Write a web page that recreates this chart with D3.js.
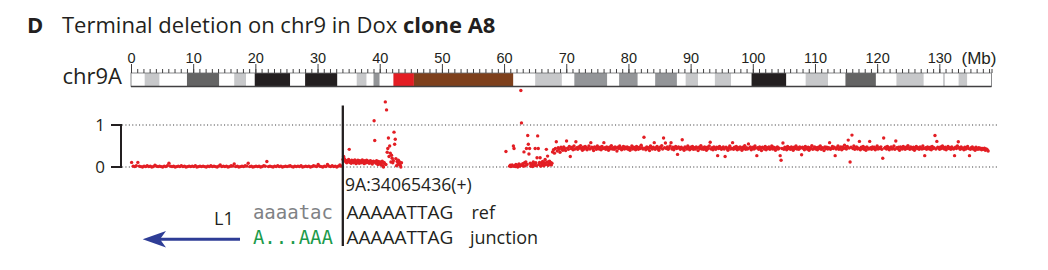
<!DOCTYPE html>
<html>
<head>
<meta charset="utf-8">
<script src="https://cdn.jsdelivr.net/npm/d3@7"></script>
<style>
  body { margin: 0; background: #fff; }
  svg { display: block; }
  text { white-space: pre; }
</style>
</head>
<body>
<svg id="chart" width="1048" height="270"></svg>
<script>
// chr9 (hg38) length and junction position, in Mb
const chromLength = 138.39;
const breakpoint = 34.065436;

const majorTicks = [0, 10, 20, 30, 40, 50, 60, 70, 80, 90, 100, 110, 120, 130];
const yTicks = [0, 1];

// cytobands: [start, end, stain]
const bands = [
  [0, 2.2, 'gneg'], [2.2, 4.6, 'gpos25'], [4.6, 9.0, 'gneg'], [9.0, 14.2, 'gpos75'],
  [14.2, 16.6, 'gneg'], [16.6, 18.5, 'gpos25'], [18.5, 19.9, 'gneg'], [19.9, 25.6, 'gpos100'],
  [25.6, 28.0, 'gneg'], [28.0, 33.2, 'gpos100'], [33.2, 36.3, 'gneg'], [36.3, 37.9, 'gpos25'],
  [37.9, 39.0, 'gneg'], [39.0, 40.0, 'gpos50'], [40.0, 42.2, 'gneg'], [42.2, 45.5, 'acen'],
  [45.5, 61.5, 'gvar'], [61.5, 65.0, 'gneg'], [65.0, 69.3, 'gpos25'], [69.3, 71.3, 'gneg'],
  [71.3, 76.6, 'gpos50'], [76.6, 78.5, 'gneg'], [78.5, 81.5, 'gpos50'], [81.5, 84.3, 'gneg'],
  [84.3, 87.8, 'gpos50'], [87.8, 89.2, 'gneg'], [89.2, 91.2, 'gpos25'], [91.2, 93.9, 'gneg'],
  [93.9, 96.5, 'gpos25'], [96.5, 99.8, 'gneg'], [99.8, 105.4, 'gpos100'], [105.4, 108.5, 'gneg'],
  [108.5, 112.1, 'gpos25'], [112.1, 114.9, 'gneg'], [114.9, 119.8, 'gpos75'], [119.8, 123.1, 'gneg'],
  [123.1, 127.5, 'gpos25'], [127.5, 130.6, 'gneg'], [130.6, 130.9, 'gpos25'], [130.9, 133.1, 'gneg'],
  [133.1, 134.5, 'gpos25'], [134.5, chromLength, 'gneg']
];

const stainColour = {
  gneg: '#ffffff', gpos25: '#c7c8ca', gpos50: '#939598', gpos75: '#646464',
  gpos100: '#231f20', acen: '#e31e24', gvar: '#7e401c'
};

// read depth ratio per bin. each segment: first bin (Mb), bin width (Mb), values (null = no bin)
const delStart = 0.1, delStep = 0.25;
const delValues = [
  0.11,0.02,0.01,0.03,0.11,0.02,0.01,0.00,0.02,0.01,0.03,0.01,0.02,0.00,0.01,0.04,0.02,0.01,0.02,0.01,
  0.00,0.02,0.01,0.03,0.09,0.02,0.01,0.02,0.00,0.01,0.02,0.01,0.03,0.01,0.02,0.00,0.01,0.02,0.01,0.02,
  0.01,0.03,0.00,0.01,0.02,0.01,0.02,0.01,0.00,0.02,0.01,0.03,0.01,0.02,0.01,0.00,0.02,0.05,0.01,0.02,
  0.01,0.02,0.00,0.01,0.03,0.02,0.07,0.01,0.02,0.00,0.01,0.02,0.01,0.03,0.02,0.09,0.01,0.02,0.00,0.01,
  0.02,0.01,0.02,0.00,0.01,0.03,0.02,0.13,0.01,0.02,0.01,0.00,0.02,0.01,0.03,0.01,0.02,0.00,0.01,0.02,
  0.01,0.02,0.03,0.01,0.00,0.02,0.01,0.02,0.01,0.03,0.00,0.01,0.02,0.01,0.02,0.00,0.01,0.03,0.02,0.01,
  0.06,0.02,0.01,0.00,0.02,0.01,0.06,0.02,0.01,0.03,0.01,0.02,0.00,0.02,0.05,0.02
];

const pStart = 34.1, pStep = 0.1;
const pValues = [
  0.18,0.25,0.20,0.14,0.16,0.12,0.10,0.15,0.13,0.18,0.42,0.11,0.14,0.09,0.16,0.12,0.15,0.10,0.13,0.17,
  0.12,0.08,0.14,0.11,0.16,0.13,0.09,0.15,0.12,0.10,0.14,0.17,0.11,0.13,0.08,0.15,0.12,0.10,0.16,0.13,
  0.11,0.14,0.09,0.12,0.15,0.10,0.13,0.07,0.11,0.14,1.10,0.63,0.12,0.09,0.15,0.11,0.06,0.13,0.10,0.08,
  0.12,0.05,0.10,0.14,0.03,0.00,0.11,0.08,1.55,0.06,1.36,0.35,0.44,0.69,0.25,0.50,0.33,0.12,0.28,0.21,
  0.10,0.15,0.83,0.54,0.66,0.20,0.03,0.13,0.06,0.16,0.09,0.12,0.04,0.00,0.10
];

const cenStart = 60.3, cenStep = 0.1;
const cenValues = [
  0.37,null,null,null,null,null,0.02,0.04,0.01,0.03,0.05,0.02,0.50,0.44,0.03,0.01,0.06,0.02,0.04,0.00,
  0.03,0.07,0.02,0.05,1.82,1.05,0.04,0.08,0.02,0.36,0.10,0.03,0.12,0.44,0.06,0.75,0.54,0.31,0.44,0.09,
  0.02,0.05,0.08,0.01,0.12,0.04,0.07,0.44,0.10,0.03,0.22,0.74,0.44,0.06,0.11,0.22,0.02,0.09,0.05,0.13,
  0.08,0.03,0.10,0.18,0.06,0.42,0.12,0.26,0.04,0.09,0.14,0.07,0.11,0.05,0.09
];

const qStart = 67.8, qStep = 0.15;
const qValues = [
  0.36,0.41,0.33,0.44,0.60,0.38,0.46,0.42,0.35,0.47,0.43,0.40,0.48,0.44,0.39,0.62,0.45,0.42,0.49,0.25,
  0.44,0.47,0.41,0.50,0.43,0.60,0.46,0.42,0.48,0.45,0.51,0.44,0.40,0.47,0.43,0.49,0.46,0.41,0.45,0.50,
  0.43,0.58,0.47,0.44,0.39,0.48,0.45,0.42,0.50,0.46,0.43,0.47,0.41,0.49,0.44,0.58,0.46,0.42,0.48,0.45,
  0.40,0.47,0.44,0.51,0.43,0.46,0.42,0.48,0.45,0.38,0.47,0.44,0.50,0.46,0.41,0.45,0.49,0.43,0.47,0.44,
  0.48,0.42,0.46,0.40,0.45,0.50,0.43,0.47,0.44,0.41,0.49,0.45,0.42,0.47,0.44,0.52,0.46,0.43,0.71,0.45,
  0.41,0.48,0.44,0.46,0.39,0.50,0.45,0.43,0.47,0.58,0.42,0.46,0.49,0.44,0.40,0.47,0.45,0.51,0.43,0.69,
  0.46,0.57,0.44,0.48,0.42,0.45,0.50,0.58,0.43,0.47,0.41,0.46,0.49,0.44,0.30,0.48,0.45,0.42,0.47,0.65,
  0.44,0.40,0.48,0.46,0.43,0.50,0.45,0.41,0.47,0.44,0.49,0.42,0.46,0.43,0.48,0.45,0.39,0.47,0.44,0.51,
  0.43,0.46,0.42,0.48,0.45,0.40,0.47,0.44,0.50,0.59,0.43,0.46,0.41,0.48,0.45,0.42,0.47,0.27,0.44,0.49,
  0.46,0.42,0.45,0.48,0.43,0.25,0.47,0.44,0.40,0.46,0.50,0.43,0.45,0.58,0.42,0.47,0.44,0.49,0.41,0.46,
  0.43,0.48,0.45,0.40,0.47,0.44,0.51,0.42,0.46,0.43,0.55,0.45,0.48,0.41,0.44,0.47,0.43,0.50,0.45,0.27,
  0.46,0.42,0.48,0.44,0.39,0.47,0.45,0.43,0.49,0.41,0.46,0.44,0.48,0.42,0.45,0.50,0.43,0.47,0.44,0.40,
  0.46,0.48,0.43,0.45,0.27,0.16,0.44,0.57,0.42,0.47,0.45,0.41,0.49,0.44,0.46,0.42,0.48,0.45,0.40,0.47,
  0.44,0.50,0.43,0.46,0.42,0.48,0.45,0.29,0.47,0.44,0.41,0.49,0.45,0.43,0.47,0.40,0.46,0.44,0.51,0.42,
  0.45,0.48,0.43,0.46,0.41,0.47,0.44,0.50,0.42,0.46,0.45,0.39,0.48,0.44,0.47,0.43,0.46,0.58,0.42,0.45,
  0.49,0.44,0.47,0.27,0.43,0.46,0.50,0.42,0.45,0.48,0.41,0.47,0.44,0.52,0.46,0.43,0.49,0.64,0.45,0.12,
  0.47,0.76,0.44,0.50,0.42,0.46,0.48,0.43,0.45,0.61,0.41,0.47,0.44,0.49,0.42,0.46,0.40,0.48,0.45,0.43,
  0.61,0.46,0.42,0.48,0.44,0.47,0.41,0.45,0.50,0.43,0.46,0.44,0.48,0.42,0.21,0.69,0.45,0.47,0.43,0.49,
  0.44,0.41,0.46,0.48,0.43,0.45,0.50,0.42,0.62,0.46,0.44,0.47,0.40,0.48,0.45,0.43,0.49,0.46,0.42,0.47,
  0.44,0.51,0.45,0.42,0.48,0.46,0.43,0.47,0.40,0.45,0.49,0.44,0.46,0.42,0.48,0.45,0.43,0.50,0.44,0.27,
  0.46,0.42,0.48,0.45,0.43,0.47,0.41,0.49,0.44,0.46,0.75,0.43,0.61,0.47,0.45,0.42,0.48,0.44,0.50,0.46,
  0.43,0.47,0.41,0.45,0.49,0.44,0.46,0.42,0.48,0.45,0.43,0.27,0.47,0.44,0.50,0.60,0.46,0.42,0.48,0.44,
  0.45,0.41,0.47,0.43,0.46,0.49,0.44,0.27,0.42,0.46,0.48,0.43,0.45,0.40,0.47,0.44,0.42,0.46,0.43,0.45,
  0.41,0.44,0.42,0.45,0.40,0.43,0.41,0.38
];

const sans = "'Open Sans', sans-serif";
const ink = '#231f20';
const red = '#e31e24';

const svg = d3.select('#chart');
const x = d3.scaleLinear().domain([0, chromLength]).range([131, 991.5]);
const y = d3.scaleLinear().domain([0, 1]).range([167, 125]);
const ideoTop = 73, ideoHeight = 13.5;

// title
const title = svg.append('text')
  .attr('x', 27).attr('y', 33)
  .style('font-family', sans).style('font-size', '22px').attr('fill', ink);
title.append('tspan').attr('font-weight', 700).text('D');
title.append('tspan').attr('x', 62).text('Terminal deletion on chr9 in Dox ');
title.append('tspan').attr('font-weight', 700).text('clone A8');

svg.append('text')
  .attr('x', 122).attr('y', 84).attr('text-anchor', 'end')
  .style('font-family', sans).style('font-size', '22px').attr('fill', ink)
  .text('chr9A');

// ideogram
svg.append('g').selectAll('rect')
  .data(bands)
  .join('rect')
  .attr('x', d => x(d[0]))
  .attr('width', d => x(d[1]) - x(d[0]))
  .attr('y', ideoTop)
  .attr('height', ideoHeight)
  .attr('fill', d => stainColour[d[2]]);

svg.append('rect')
  .attr('x', x(0)).attr('y', ideoTop)
  .attr('width', x(chromLength) - x(0)).attr('height', ideoHeight)
  .attr('fill', 'none').attr('stroke', '#6d6e71').attr('stroke-width', 0.8);
svg.append('line')
  .attr('x1', x(0)).attr('x2', x(chromLength))
  .attr('y1', ideoTop + ideoHeight).attr('y2', ideoTop + ideoHeight)
  .attr('stroke', '#414042').attr('stroke-width', 1.6);

const minorAxis = svg.append('g')
  .attr('transform', `translate(0,${ideoTop})`)
  .call(d3.axisTop(x).tickValues(d3.range(0, chromLength, 1).concat([chromLength])).tickSize(4).tickFormat(''));
minorAxis.select('.domain').remove();
minorAxis.selectAll('line').attr('stroke', '#414042');

const majorAxis = svg.append('g')
  .attr('transform', `translate(0,${ideoTop})`)
  .call(d3.axisTop(x).tickValues(majorTicks).tickSize(9).tickPadding(1));
majorAxis.select('.domain').remove();
majorAxis.selectAll('line').attr('stroke', '#414042');
majorAxis.selectAll('text')
  .attr('fill', ink)
  .style('font-family', "'Liberation Sans', Arial, sans-serif")
  .style('font-size', '14.5px');

svg.append('text')
  .attr('x', 961.5).attr('y', 64)
  .style('font-family', "'Liberation Sans', Arial, sans-serif").style('font-size', '17px')
  .attr('fill', ink).text('(Mb)');

// depth panel
svg.append('g').selectAll('line')
  .data(yTicks)
  .join('line')
  .attr('x1', 122).attr('x2', 997)
  .attr('y1', d => y(d)).attr('y2', d => y(d))
  .attr('stroke', '#414042').attr('stroke-width', 1.1)
  .attr('stroke-dasharray', '1.1 2.3');

svg.append('path')
  .attr('d', `M111,${y(1)}H121V${y(0)}H111`)
  .attr('fill', 'none').attr('stroke', ink).attr('stroke-width', 2);

svg.append('g').selectAll('text')
  .data(yTicks)
  .join('text')
  .attr('x', 105).attr('y', d => y(d))
  .attr('dy', '0.35em')
  .attr('text-anchor', 'end')
  .style('font-family', sans).style('font-size', '17px').attr('fill', ink)
  .text(d => d);

const toPoints = (start, step, values) =>
  values.map((v, i) => ({ mb: start + i * step, v })).filter(d => d.v !== null);

const points = [].concat(
  toPoints(delStart, delStep, delValues),
  toPoints(pStart, pStep, pValues),
  toPoints(cenStart, cenStep, cenValues),
  toPoints(qStart, qStep, qValues)
);

svg.append('g').selectAll('circle')
  .data(points)
  .join('circle')
  .attr('cx', d => x(d.mb))
  .attr('cy', d => y(d.v))
  .attr('r', 1.7)
  .attr('fill', red);

svg.append('line')
  .attr('x1', x(breakpoint)).attr('x2', x(breakpoint))
  .attr('y1', 105.5).attr('y2', 246)
  .attr('stroke', ink).attr('stroke-width', 2.3);

// junction sequence
const seq = svg.append('g').style('font-family', sans).attr('fill', ink);
seq.append('text').attr('x', 345).attr('y', 190.5).style('font-size', '17.6px').text('9A:34065436(+)');
seq.append('text').attr('x', 346.5).attr('y', 219.3).style('font-size', '19px').text('AAAAATTAG');
seq.append('text').attr('x', 346.5).attr('y', 244).style('font-size', '19px').text('AAAAATTAG');
seq.append('text').attr('x', 471.5).attr('y', 219.3).style('font-size', '18px').text('ref');
seq.append('text').attr('x', 470).attr('y', 244).style('font-size', '18px').text('junction');
seq.append('text').attr('x', 214).attr('y', 225).style('font-size', '18px').text('L1');

const mono = "'DejaVu Sans Mono', monospace";
svg.append('text').attr('x', 333).attr('y', 219.3).attr('text-anchor', 'end')
  .style('font-family', mono).style('font-size', '19px').attr('fill', '#808285').text('aaaatac');
svg.append('text').attr('x', 333).attr('y', 244).attr('text-anchor', 'end')
  .style('font-family', mono).style('font-size', '19px').attr('fill', '#1b9a4a').text('A...AAA');

const blue = '#2e3d96';
svg.append('line')
  .attr('x1', 240).attr('x2', 158).attr('y1', 239.3).attr('y2', 239.3)
  .attr('stroke', blue).attr('stroke-width', 3);
svg.append('path')
  .attr('d', 'M142.7,239.3L166,231L160,239.3L166,247.6Z')
  .attr('fill', blue);
</script>
</body>
</html>
